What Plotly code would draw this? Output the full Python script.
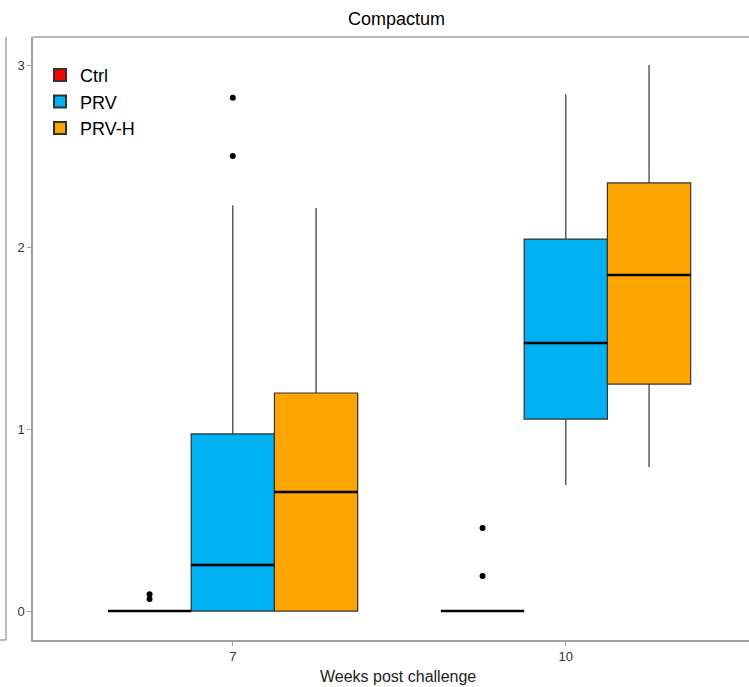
import plotly.graph_objects as go

# ---- data ----
weeks = ["7", "10"]
groups = ["Ctrl", "PRV", "PRV-H"]
colors = ["#FF0000", "#00B0F0", "#FFA500"]

q1 = {"Ctrl": [0, 0], "PRV": [0, 1.055], "PRV-H": [0, 1.247]}
median = {"Ctrl": [0, 0], "PRV": [0.253, 1.473], "PRV-H": [0.654, 1.846]}
q3 = {"Ctrl": [0, 0], "PRV": [0.973, 2.044], "PRV-H": [1.198, 2.352]}
lower = {"Ctrl": [0, 0], "PRV": [0, 0.692], "PRV-H": [0, 0.791]}
upper = {"Ctrl": [0, 0], "PRV": [2.23, 2.84], "PRV-H": [2.214, 3.0]}
outliers = {
    "Ctrl": [[0.066, 0.093], [0.192, 0.456]],
    "PRV": [[2.50, 2.82], []],
    "PRV-H": [[], []],
}

W, H = 749, 687
left_px, top_px, bot_px = 33, 37, 640
box_w = 0.25
offsets = [-box_w, 0, box_w]

fig = go.Figure()
for gi, g in enumerate(groups):
    pos = [wi + offsets[gi] for wi in range(len(weeks))]
    fig.add_trace(go.Box(
        name=g, x=pos, q1=q1[g], median=median[g], q3=q3[g],
        lowerfence=lower[g], upperfence=upper[g],
        width=box_w, whiskerwidth=0,
        fillcolor=colors[gi], line=dict(color="#333333", width=1.2),
        boxpoints=False, showlegend=True,
    ))
for gi, g in enumerate(groups):
    for wi in range(len(weeks)):
        c = wi + offsets[gi]
        fig.add_trace(go.Scatter(
            x=[c - box_w / 2, c + box_w / 2], y=[median[g][wi]] * 2,
            mode="lines", line=dict(color="black", width=2.4),
            showlegend=False, hoverinfo="skip"))
        pts = outliers[g][wi]
        if pts:
            fig.add_trace(go.Scatter(
                x=[c] * len(pts), y=pts, mode="markers",
                marker=dict(color="black", size=6),
                showlegend=False, hoverinfo="skip"))

x0 = -0.6
x1 = x0 + (W - left_px) / 333.0

fig.update_layout(
    width=W, height=H,
    margin=dict(l=0, r=0, t=top_px, b=H - bot_px),
    plot_bgcolor="white", paper_bgcolor="white",
    font=dict(family="Liberation Sans, Arial, sans-serif", color="#333333"),
    showlegend=True,
    legend=dict(x=40 / W, y=0.967, xanchor="left", yanchor="top",
                font=dict(size=18, color="black"), bgcolor="rgba(0,0,0,0)",
                tracegroupgap=0, itemsizing="constant"),
    xaxis=dict(domain=[left_px / W, 1], range=[x0, x1],
               tickvals=[0, 1], ticktext=weeks,
               showline=True, linecolor="#a0a0a0", linewidth=1.5,
               ticks="outside", ticklen=4, tickcolor="#a0a0a0",
               showgrid=False, zeroline=False,
               tickfont=dict(size=13, color="#333333")),
    yaxis=dict(range=[-0.159, 3.154], tickvals=[0, 1, 2, 3],
               showline=True, linecolor="#a0a0a0", linewidth=1.5,
               ticks="outside", ticklen=4, tickcolor="#a0a0a0",
               showgrid=False, zeroline=False,
               tickfont=dict(size=13, color="#333333")),
    shapes=[
        dict(type="line", xref="paper", yref="paper", x0=left_px / W, x1=1, y0=1, y1=1,
             line=dict(color="#a0a0a0", width=1.5)),
        dict(type="line", xref="paper", yref="paper", x0=6 / W, x1=6 / W, y0=0, y1=1,
             line=dict(color="#a0a0a0", width=1.5)),
        dict(type="line", xref="paper", yref="paper", x0=0, x1=6 / W, y0=0, y1=0,
             line=dict(color="#a0a0a0", width=1.5)),
    ],
    annotations=[
        dict(text="Compactum", xref="paper", yref="paper", x=396 / W,
             y=1 + 18 / (bot_px - top_px), xanchor="center", yanchor="middle",
             showarrow=False, font=dict(size=18, color="black")),
        dict(text="Weeks post challenge", xref="paper", yref="paper", x=398 / W,
             y=-(676 - bot_px) / (bot_px - top_px), xanchor="center", yanchor="middle",
             showarrow=False, font=dict(size=16, color="#222222")),
    ],
)

fig.write_html("out.html",
               config={"displayModeBar": False},
               post_script="document.body.style.margin='0';document.body.style.overflow='hidden';")
